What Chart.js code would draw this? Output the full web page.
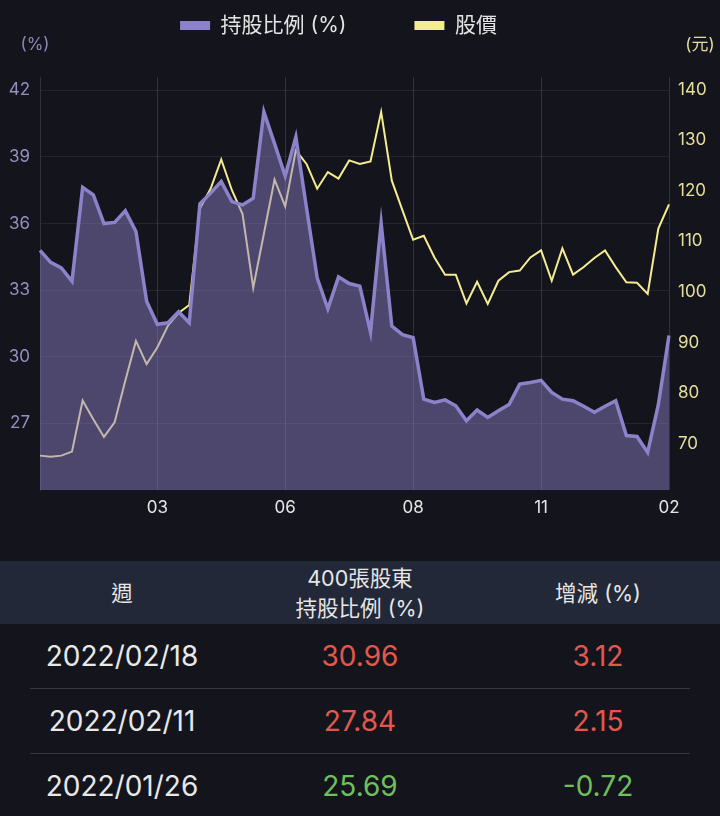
<!DOCTYPE html>
<html lang="zh-Hant">
<head>
<meta charset="utf-8">
<title>400張股東持股比例</title>
<script src="https://cdn.jsdelivr.net/npm/chart.js@4.4.1/dist/chart.umd.min.js"></script>
<style>
  html, body { margin: 0; padding: 0; background: #14151c; }
  body { width: 720px; height: 816px; overflow: hidden; position: relative;
         font-family: Inter, "Noto Sans CJK TC", sans-serif; color: #e8e8e8; }
  #chartBox { position: absolute; top: 0; left: 0; width: 720px; height: 530px; }
  #holders { position: absolute; top: 561px; left: 0; width: 720px; }
  .head, .row { display: grid; grid-template-columns: 244px 232px 244px; align-items: center; text-align: center; }
  .head { height: 63px; background: #222837; font-size: 21.5px; line-height: 30px; color: #e6e6e6; }
  .row { height: 64px; font-size: 28px; }
  .sep { height: 1px; background: #343744; margin: 0 30px; }
  .up { color: #e3584d; }
  .down { color: #6fbf5c; }
</style>
</head>
<body>
<div id="chartBox"><canvas id="holderChart"></canvas></div>
<div id="holders">
  <div class="head"><div>週</div><div>400張股東<br>持股比例 (%)</div><div>增減 (%)</div></div>
  <div id="rows"></div>
</div>
<script>
// weekly data dates (last one 2022/02/18)
const weeks = [
  "2020/12/25", "2020/12/31", "2021/01/08", "2021/01/15", "2021/01/22", "2021/01/29",
  "2021/02/05", "2021/02/09", "2021/02/19", "2021/02/26", "2021/03/05", "2021/03/12",
  "2021/03/19", "2021/03/26", "2021/04/01", "2021/04/09", "2021/04/16", "2021/04/23",
  "2021/04/30", "2021/05/07", "2021/05/14", "2021/05/21", "2021/05/28", "2021/06/04",
  "2021/06/11", "2021/06/18", "2021/06/25", "2021/07/02", "2021/07/09", "2021/07/16",
  "2021/07/23", "2021/07/30", "2021/08/06", "2021/08/13", "2021/08/20", "2021/08/27",
  "2021/09/03", "2021/09/10", "2021/09/17", "2021/09/24", "2021/10/01", "2021/10/08",
  "2021/10/15", "2021/10/22", "2021/10/29", "2021/11/05", "2021/11/12", "2021/11/19",
  "2021/11/26", "2021/12/03", "2021/12/10", "2021/12/17", "2021/12/24", "2021/12/30",
  "2022/01/07", "2022/01/14", "2022/01/21", "2022/01/26", "2022/02/11", "2022/02/18"
];

// 持股比例 (%)
const holdRatio = [
  34.79, 34.25, 34.0, 33.4, 37.63, 37.29, 36.0, 36.05, 36.57, 35.64,
  32.5, 31.46, 31.53, 32.03, 31.53, 36.89, 37.37, 37.89, 36.99, 36.84,
  37.14, 41.03, 39.6, 38.14, 39.9, 36.7, 33.55, 32.16, 33.6, 33.3,
  33.18, 31.11, 36.02, 31.38, 31.0, 30.86, 28.09, 27.94, 28.06, 27.79,
  27.12, 27.6, 27.27, 27.57, 27.85, 28.77, 28.84, 28.94, 28.39, 28.09,
  28.02, 27.77, 27.5, 27.77, 28.02, 26.45, 26.41, 25.69, 27.84, 30.96
];

// 股價 (元)
const price = [
  67.6, 67.4, 67.6, 68.4, 78.5, 74.8, 71.3, 74.2, 82.4, 90.3,
  85.7, 89.0, 93.3, 95.8, 97.4, 116.5, 120.4, 126.2, 120.1, 115.4,
  100.8, 111.5, 122.2, 116.9, 128.0, 125.3, 120.4, 123.7, 122.4, 126.0,
  125.3, 125.8, 135.6, 122.0, 116.1, 110.3, 111.1, 106.8, 103.4, 103.4,
  97.7, 102.0, 97.6, 102.2, 103.9, 104.2, 106.8, 108.2, 102.2, 108.6,
  103.4, 104.9, 106.7, 108.2, 104.9, 101.9, 101.8, 99.6, 112.5, 117.3
];

const xTickIndex = [11, 23, 35, 47, 59];
const leftTicks = [27, 30, 33, 36, 39, 42];
const rightTicks = [70, 80, 90, 100, 110, 120, 130, 140];
const leftUnit = "(%)";
const rightUnit = "(元)";

// table below the chart
const tableWeeks = ["2022/02/18", "2022/02/11", "2022/01/26"];
const tableRatios = ["30.96", "27.84", "25.69"];
const tableChanges = ["3.12", "2.15", "-0.72"];

const PURPLE = "#8c82c9";
const YELLOW = "#f4ec91";
const LEGEND_GAP = 68;
const SHIFT = 43; // moves the centred legend a bit to the left

Chart.defaults.font.family = "Inter, 'Noto Sans CJK TC', sans-serif";

const unitTitles = {
    id: "unitTitles",
    beforeUpdate(chart) {
        // legend sits higher than the plot, leave room under it
        const lg = chart.legend;
        if (lg && !lg._patched) {
            const fit = lg.fit;
            lg.fit = function () {
                fit.call(this);
                this.height = 62 + LEGEND_GAP;
            };
            lg._patched = true;
        }
    },
    afterDraw(chart) {
        const { ctx, chartArea } = chart;
        ctx.save();
        ctx.font = "17px Inter, 'Noto Sans CJK TC', sans-serif";
        ctx.textAlign = "center";
        ctx.textBaseline = "middle";
        ctx.fillStyle = "#8e87b5";
        ctx.fillText(leftUnit, chartArea.left - 5, chartArea.top - 32);
        ctx.fillStyle = "#e4dd9b";
        ctx.fillText(rightUnit, chartArea.right + 31, chartArea.top - 32);
        ctx.restore();
    }
};

new Chart(document.getElementById("holderChart"), {
    type: "line",
    data: {
        labels: weeks,
        datasets: [{
            label: "持股比例 (%)",
            data: holdRatio,
            yAxisID: "y",
            borderColor: PURPLE,
            backgroundColor: "rgba(139, 128, 201, 0.48)",
            borderWidth: 3.5,
            fill: "start",
            pointRadius: 0,
            tension: 0
        }, {
            label: "股價",
            data: price,
            yAxisID: "y1",
            borderColor: YELLOW,
            backgroundColor: YELLOW,
            borderWidth: 2,
            fill: false,
            pointRadius: 0,
            tension: 0
        }]
    },
    options: {
        responsive: true,
        maintainAspectRatio: false,
        animation: false,
        layout: { padding: { top: 15 - LEGEND_GAP, left: -SHIFT, right: 0, bottom: 0 } },
        plugins: {
            tooltip: { enabled: false },
            legend: {
                position: "top",
                labels: {
                    color: "#e4e4e4",
                    font: { size: 21 },
                    boxWidth: 30,
                    boxHeight: 9,
                    padding: LEGEND_GAP,
                    generateLabels: chart => chart.data.datasets.map((ds, i) => ({
                        text: ds.label,
                        fillStyle: ds.borderColor,
                        strokeStyle: ds.borderColor,
                        lineWidth: 0,
                        fontColor: "#e4e4e4",
                        hidden: false,
                        datasetIndex: i
                    }))
                }
            }
        },
        scales: {
            x: {
                ticks: {
                    autoSkip: false,
                    maxRotation: 0,
                    padding: 8,
                    color: "#e6e6e6",
                    font: { size: 17 },
                    callback: (v, i) => xTickIndex.includes(i) ? weeks[i].slice(5, 7) : ""
                },
                grid: {
                    drawTicks: false,
                    color: c => xTickIndex.includes(c.index) ? "rgba(255,255,255,0.13)" : "rgba(0,0,0,0)"
                },
                border: { display: false },
                afterFit: s => { s.height = 40; }
            },
            y: {
                position: "left",
                min: 24,
                max: 42.6,
                afterBuildTicks: s => { s.ticks = leftTicks.map(v => ({ value: v })); },
                ticks: { color: "#958ec2", font: { size: 17 }, padding: 10 },
                grid: { drawTicks: false, color: "rgba(255,255,255,0.07)" },
                border: { display: true, color: "rgba(255,255,255,0.13)" },
                afterFit: s => { s.width = 40 + SHIFT; }
            },
            y1: {
                position: "right",
                min: 60.8,
                max: 142.5,
                afterBuildTicks: s => { s.ticks = rightTicks.map(v => ({ value: v })); },
                ticks: { color: "#e6df9c", font: { size: 17 }, padding: 9 },
                grid: { display: false, drawTicks: false },
                border: { display: false },
                afterFit: s => { s.width = 51; }
            }
        }
    },
    plugins: [unitTitles]
});

// table rows
const rowsEl = document.getElementById("rows");
tableWeeks.forEach((w, i) => {
    if (i > 0) {
        const sep = document.createElement("div");
        sep.className = "sep";
        rowsEl.appendChild(sep);
    }
    const cls = parseFloat(tableChanges[i]) < 0 ? "down" : "up";
    const row = document.createElement("div");
    row.className = "row";
    row.innerHTML = "<div>" + w + "</div><div class='" + cls + "'>" + tableRatios[i] +
        "</div><div class='" + cls + "'>" + tableChanges[i] + "</div>";
    rowsEl.appendChild(row);
});
</script>
</body>
</html>
